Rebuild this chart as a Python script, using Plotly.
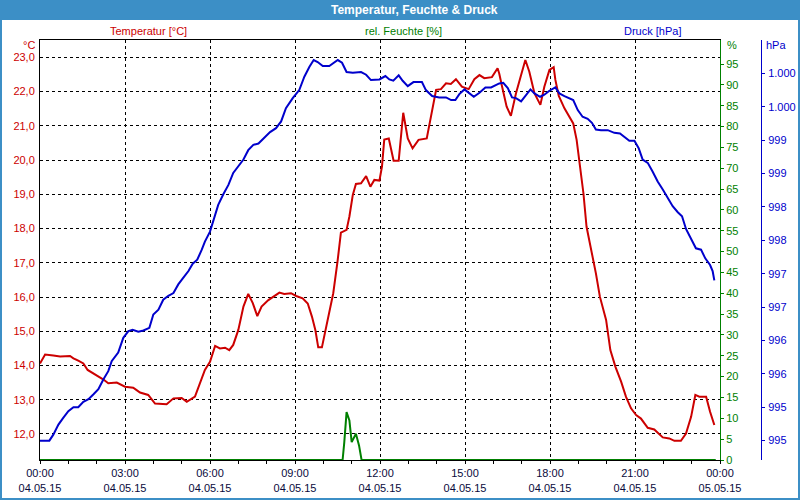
import plotly.graph_objects as go

# === 数据 (Stunden ab 04.05.15 00:00) ===
temp_h = [0.00, 0.18, 0.47, 0.71, 1.06, 1.18, 1.35, 1.53, 1.68, 1.88, 2.12, 2.24, 2.41, 2.71,
          3.00, 3.29, 3.41, 3.53, 3.82, 4.06, 4.47, 4.71, 5.00, 5.18, 5.47, 5.65, 5.82, 6.00,
          6.18, 6.35, 6.53, 6.68, 6.82, 7.00, 7.18, 7.35, 7.51, 7.67, 7.82, 8.06, 8.27, 8.45,
          8.62, 8.86, 9.04, 9.27, 9.45, 9.60, 9.72, 9.82, 9.95, 10.07, 10.21, 10.35, 10.50,
          10.62, 10.82, 10.92, 11.04, 11.15, 11.33, 11.51, 11.66, 11.80, 11.98, 12.07, 12.15,
          12.31, 12.48, 12.66, 12.82, 12.98, 13.15, 13.36, 13.65, 13.80, 13.98, 14.15, 14.33,
          14.50, 14.68, 14.89, 15.13, 15.33, 15.51, 15.68, 15.95, 16.15, 16.21, 16.31, 16.47,
          16.62, 16.80, 16.98, 17.13, 17.27, 17.45, 17.66, 17.80, 17.98, 18.13, 18.19, 18.31,
          18.51, 18.68, 18.82, 18.94, 19.06, 19.18, 19.29, 19.45, 19.62, 19.76, 19.98, 20.13,
          20.31, 20.51, 20.68, 20.86, 21.04, 21.21, 21.45, 21.68, 21.98, 22.21, 22.39, 22.62,
          22.80, 22.98, 23.13, 23.27, 23.51, 23.65, 23.80]
temp_c = [14.06, 14.32, 14.29, 14.26, 14.28, 14.21, 14.14, 14.06, 13.87, 13.77, 13.67, 13.59,
          13.48, 13.50, 13.38, 13.35, 13.28, 13.21, 13.14, 12.89, 12.87, 13.04, 13.05, 12.94,
          13.09, 13.48, 13.87, 14.11, 14.57, 14.50, 14.52, 14.45, 14.60, 15.04, 15.72, 16.09,
          15.82, 15.44, 15.72, 15.91, 16.03, 16.13, 16.09, 16.11, 16.03, 15.96, 15.81, 15.42,
          15.03, 14.53, 14.53, 14.99, 15.52, 16.11, 17.03, 17.88, 17.96, 18.35, 18.98, 19.30,
          19.32, 19.53, 19.22, 19.42, 19.40, 19.81, 20.60, 20.63, 19.98, 19.98, 21.38, 20.63,
          20.34, 20.59, 20.63, 21.27, 22.05, 22.07, 22.24, 22.22, 22.36, 22.14, 22.07, 22.36,
          22.48, 22.39, 22.42, 22.68, 22.52, 22.14, 21.56, 21.29, 21.95, 22.48, 22.92, 22.58,
          21.95, 21.61, 22.14, 22.63, 22.71, 22.34, 21.87, 21.51, 21.29, 21.07, 20.59, 19.85,
          19.03, 18.05, 17.42, 16.69, 16.01, 15.33, 14.45, 13.96, 13.53, 13.09, 12.75, 12.55,
          12.45, 12.18, 12.13, 11.90, 11.87, 11.80, 11.80, 12.01, 12.50, 13.14, 13.09, 13.09,
          12.65, 12.26]

druck_h = [0.00, 0.33, 0.47, 0.65, 0.82, 1.00, 1.18, 1.35, 1.53, 1.71, 1.88, 2.06, 2.24, 2.41,
           2.53, 2.76, 2.94, 3.12, 3.27, 3.47, 3.65, 3.86, 4.00, 4.18, 4.35, 4.53, 4.71, 4.88,
           5.06, 5.24, 5.39, 5.55, 5.71, 5.82, 6.00, 6.12, 6.29, 6.47, 6.65, 6.82, 7.00, 7.18,
           7.35, 7.53, 7.71, 7.88, 8.12, 8.33, 8.51, 8.68, 8.92, 9.15, 9.33, 9.51, 9.66, 9.80,
           9.98, 10.21, 10.39, 10.51, 10.66, 10.82, 11.04, 11.33, 11.51, 11.68, 11.98, 12.19,
           12.33, 12.47, 12.66, 12.80, 12.98, 13.18, 13.48, 13.62, 13.84, 14.09, 14.33, 14.51,
           14.66, 14.80, 14.98, 15.15, 15.31, 15.51, 15.72, 15.92, 16.21, 16.35, 16.51, 16.66,
           16.80, 16.98, 17.15, 17.31, 17.45, 17.65, 17.80, 17.98, 18.19, 18.33, 18.51, 18.68,
           18.82, 18.98, 19.15, 19.33, 19.48, 19.62, 19.80, 20.04, 20.27, 20.47, 20.62, 20.80,
           20.98, 21.13, 21.27, 21.45, 21.62, 21.80, 21.98, 22.15, 22.33, 22.51, 22.66, 22.80,
           22.98, 23.15, 23.33, 23.48, 23.65, 23.74, 23.80]
druck_hpa = [994.75, 994.75, 994.84, 994.99, 995.09, 995.19, 995.25, 995.25, 995.33, 995.37,
             995.44, 995.52, 995.67, 995.79, 995.94, 996.07, 996.29, 996.39, 996.41, 996.38,
             996.40, 996.44, 996.64, 996.71, 996.86, 996.92, 996.96, 997.09, 997.19, 997.29,
             997.40, 997.46, 997.61, 997.73, 997.88, 998.06, 998.28, 998.44, 998.58, 998.76,
             998.86, 998.96, 999.10, 999.18, 999.20, 999.27, 999.37, 999.43, 999.53, 999.73,
             999.88, 1000.00, 1000.20, 1000.35, 1000.45, 1000.42, 1000.36, 1000.36, 1000.41,
             1000.45, 1000.41, 1000.27, 1000.26, 1000.27, 1000.23, 1000.15, 1000.16, 1000.21,
             1000.16, 1000.14, 1000.22, 1000.14, 1000.06, 1000.12, 1000.12, 1000.00, 999.91,
             999.89, 999.89, 999.85, 999.85, 999.94, 1000.01, 999.95, 999.90, 999.96, 1000.04,
             1000.04, 1000.10, 1000.11, 1000.03, 999.89, 999.88, 999.83, 999.93, 1000.01,
             999.95, 999.90, 999.93, 999.99, 1000.04, 999.95, 999.91, 999.88, 999.85, 999.70,
             999.60, 999.57, 999.51, 999.41, 999.40, 999.40, 999.36, 999.35, 999.30, 999.24,
             999.24, 999.13, 998.96, 998.91, 998.78, 998.63, 998.51, 998.38, 998.26, 998.17,
             998.11, 997.92, 997.76, 997.63, 997.61, 997.48, 997.38, 997.29, 997.15]

feuchte_h = [0.0, 10.68, 10.74, 10.82, 10.92, 11.00, 11.15, 11.26, 11.35, 23.85]
feuchte_pct = [0, 0, 4.3, 11.5, 9.5, 4.3, 6.3, 3.5, 0, 0]

x_ticks = [0, 3, 6, 9, 12, 15, 18, 21, 24]
x_labels = ['00:00<br>04.05.15', '03:00<br>04.05.15', '06:00<br>04.05.15', '09:00<br>04.05.15',
            '12:00<br>04.05.15', '15:00<br>04.05.15', '18:00<br>04.05.15', '21:00<br>04.05.15',
            '00:00<br>05.05.15']
t_ticks = [12, 13, 14, 15, 16, 17, 18, 19, 20, 21, 22, 23]
t_labels = ['12,0', '13,0', '14,0', '15,0', '16,0', '17,0', '18,0', '19,0', '20,0', '21,0',
            '22,0', '23,0']
f_ticks = [0, 5, 10, 15, 20, 25, 30, 35, 40, 45, 50, 55, 60, 65, 70, 75, 80, 85, 90, 95]
p_ticks = [1000.25, 999.75, 999.25, 998.75, 998.25, 997.75, 997.25, 996.75, 996.25, 995.75,
           995.25, 994.75]
p_labels = ['1.000', '1.000', '999', '999', '998', '998', '997', '997', '996', '996', '995', '995']

# === Farben / Layout ===
ROT, GRUEN, BLAU = '#cc0000', '#008000', '#0000cc'
FONT = 'Liberation Sans'
W, H, ML, MT, MB = 800, 500, 40, 40, 40
PW, PH = W - ML, H - MT - MB


def px(x):  # Pixel -> paper
    return (x - ML) / PW


def py(y):
    return 1 - (y - MT) / PH


fig = go.Figure()
fig.add_trace(go.Scatter(x=feuchte_h, y=feuchte_pct, mode='lines', name='rel. Feuchte',
                         line=dict(color=GRUEN, width=2), yaxis='y2'))
fig.add_trace(go.Scatter(x=druck_h, y=druck_hpa, mode='lines', name='Druck',
                         line=dict(color=BLAU, width=2), yaxis='y3'))
fig.add_trace(go.Scatter(x=temp_h, y=temp_c, mode='lines', name='Temperatur',
                         line=dict(color=ROT, width=2), yaxis='y'))

dom_x = [0, 680 / PW]
fig.update_layout(
    width=W, height=H, margin=dict(l=ML, r=0, t=MT, b=MB, autoexpand=False),
    paper_bgcolor='white', plot_bgcolor='white', showlegend=False,
    font=dict(family=FONT, size=11),
    xaxis=dict(domain=dom_x, range=[0, 24], tickvals=x_ticks, ticktext=x_labels,
               tickfont=dict(color='#0a0a3c', size=11), ticks='outside', ticklen=3,
               tickcolor='black', showgrid=True, gridcolor='black', griddash='3px,3px',
               gridwidth=1, showline=True, linecolor='black', linewidth=1, mirror=True,
               zeroline=False, automargin=False,
               minor=dict(dtick=1, tick0=0, ticks='outside', ticklen=3,
                          tickcolor='black', showgrid=False)),
    yaxis=dict(range=[11.24, 23.505], tickvals=t_ticks, ticktext=t_labels,
               tickfont=dict(color=ROT, size=11), ticks='', showgrid=True, gridcolor='black',
               griddash='3px,3px', gridwidth=1, showline=True, linecolor='black', linewidth=1,
               zeroline=False, ticklabelstandoff=2, automargin=False),
    yaxis2=dict(range=[0, 100.76], tickvals=f_ticks, overlaying='y', side='right',
                anchor='x', tickfont=dict(color=GRUEN, size=11), ticks='outside', ticklen=3,
                tickcolor=GRUEN, showgrid=False, showline=True, linecolor=GRUEN, linewidth=1,
                zeroline=False, ticklabelstandoff=0, automargin=False),
    yaxis3=dict(range=[994.46, 1000.75], tickvals=p_ticks, ticktext=p_labels, overlaying='y',
                side='right', anchor='free', position=px(761),
                tickfont=dict(color=BLAU, size=11), ticks='outside', ticklen=3,
                tickcolor=BLAU, showgrid=False, showline=True, linecolor=BLAU, linewidth=1,
                zeroline=False, ticklabelstandoff=1, automargin=False),
)

# Titelleiste + Rahmen
fig.add_shape(type='rect', xref='paper', yref='paper', x0=px(0), x1=px(800), y0=py(20),
              y1=py(0), fillcolor='#3c8fc6', line_width=0, layer='below')
fig.add_shape(type='rect', xref='paper', yref='paper', x0=px(1), x1=px(799), y0=py(499),
              y1=py(1), line=dict(color='#3c8fc6', width=2), fillcolor='rgba(0,0,0,0)')

annots = [
    ('Temperatur, Feuchte & Druck', 414, 10, 'white', 'center', 12, True),
    ('Temperatur [°C]', 148, 31, ROT, 'center', 11, False),
    ('rel. Feuchte [%]', 403, 31, GRUEN, 'center', 11, False),
    ('Druck [hPa]', 652, 31, BLAU, 'center', 11, False),
    ('°C', 37, 45, ROT, 'right', 11, False),
    ('%', 725, 45, GRUEN, 'left', 11, False),
    ('hPa', 764, 45, BLAU, 'left', 11, False),
]
for txt, x, y, col, al, size, bold in annots:
    fig.add_annotation(text=f'<b>{txt}</b>' if bold else txt, xref='paper', yref='paper',
                       x=px(x), y=py(y), xanchor=al, yanchor='middle', showarrow=False,
                       font=dict(color=col, size=size, family=FONT))

# body-Rand des Browsers entfernen, damit die Grafik bei (0,0) beginnt
fig.write_html('out.html', config={'displayModeBar': False},
               post_script="document.body.style.margin='0px';")
